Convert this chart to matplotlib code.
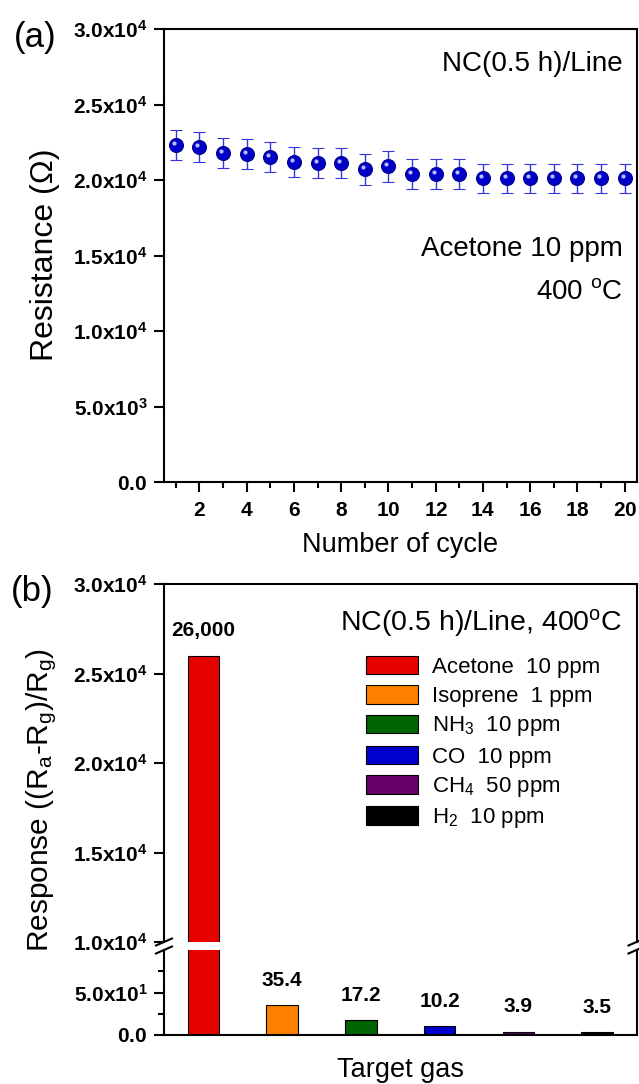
"""Cycling stability and gas selectivity of the NC(0.5 h)/Line sensor at 400 C."""
import matplotlib
matplotlib.use('Agg')
import matplotlib.pyplot as plt
from matplotlib.lines import Line2D
from matplotlib.ticker import FuncFormatter, FixedLocator
from matplotlib.transforms import offset_copy
import numpy as np

plt.rcParams['font.family'] = ['Liberation Sans', 'DejaVu Sans']
plt.rcParams['mathtext.fontset'] = 'custom'
plt.rcParams['mathtext.rm'] = 'Liberation Sans'
plt.rcParams['mathtext.it'] = 'Liberation Sans:italic'
plt.rcParams['mathtext.bf'] = 'Liberation Sans:bold'

# (a) resistance over repeated acetone cycles
cycles = list(range(1, 21))
resistance = [22300, 22200, 21800, 21700, 21500, 21200, 21100, 21100, 20700, 20900,
              20400, 20400, 20400, 20100, 20100, 20100, 20100, 20100, 20100, 20100]
resistance_err = [1000, 1000, 1000, 1000, 1000, 1000, 1000, 1000, 1000, 1000,
                  1000, 1000, 1000, 950, 950, 950, 950, 950, 950, 950]

# (b) response to different target gases
gases = ['Acetone  10 ppm', 'Isoprene  1 ppm', 'NH$_3$  10 ppm',
         'CO  10 ppm', 'CH$_4$  50 ppm', 'H$_2$  10 ppm']
responses = [26000, 35.4, 17.2, 10.2, 3.9, 3.5]
response_text = ['26,000', '35.4', '17.2', '10.2', '3.9', '3.5']
bar_colors = ['#e60000', '#ff8000', '#006400', '#0000cc', '#660066', '#000000']

FIG_W, FIG_H = 639, 1084
LEFT, RIGHT = 164 / FIG_W, 636.5 / FIG_W
WIDTH = RIGHT - LEFT


def fy(px):
    """Convert a pixel row (from the top) to a figure fraction."""
    return 1 - px / FIG_H


def sci_label(v, pos):
    if v == 0:
        return r'$\mathbf{0.0}$'
    exp = int(np.floor(np.log10(abs(v))))
    mant = v / 10 ** exp
    return r'$\mathbf{%.1fx10^{%d}}$' % (mant, exp)


def style_axis(ax):
    for s in ax.spines.values():
        s.set_linewidth(1.5)
    ax.tick_params(axis='both', which='major', direction='out', length=7,
                   width=1.5, labelsize=15, pad=5)
    ax.tick_params(axis='both', which='minor', direction='out', length=4, width=1.5)
    ax.yaxis.set_major_formatter(FuncFormatter(sci_label))


fig = plt.figure(figsize=(FIG_W / 100, FIG_H / 100), dpi=100)

# ---- (a) ----
ax_a = fig.add_axes([LEFT, fy(482), WIDTH, fy(29) - fy(482)])
style_axis(ax_a)
ax_a.errorbar(cycles, resistance, yerr=resistance_err, fmt='o', ms=10,
              mfc='#0000c8', mec='#00008b', mew=0.8, ecolor='#3535dd',
              elinewidth=1.0, capsize=4, capthick=1.0, zorder=3)
shine = offset_copy(ax_a.transData, fig=fig, x=-2, y=2, units='dots')
ax_a.plot(cycles, resistance, 'o', ms=3, color='#b8bcff', mew=0,
          transform=shine, zorder=4)
ax_a.set_xlim(0.5, 20.5)
ax_a.set_ylim(0, 30000)
ax_a.xaxis.set_major_locator(FixedLocator(range(2, 21, 2)))
ax_a.xaxis.set_minor_locator(FixedLocator(range(1, 21, 2)))
ax_a.yaxis.set_major_locator(FixedLocator(range(0, 30001, 5000)))
ax_a.xaxis.set_major_formatter(FuncFormatter(lambda v, p: r'$\mathbf{%d}$' % v))
ax_a.tick_params(axis='x', pad=7)
ax_a.set_xlabel('Number of cycle', fontsize=19.5, labelpad=8)

ax_a.text(0.971, 0.922, 'NC(0.5 h)/Line', transform=ax_a.transAxes,
          ha='right', va='center', fontsize=20)
ax_a.text(0.971, 0.515, 'Acetone 10 ppm', transform=ax_a.transAxes,
          ha='right', va='center', fontsize=20)
ax_a.text(0.971, 0.419, r'400 $^{\mathrm{o}}$C', transform=ax_a.transAxes,
          ha='right', va='center', fontsize=20)

fig.text(45 / FIG_W, fy(255), 'Resistance (Ω)', rotation=90,
         ha='center', va='center', fontsize=23)
fig.text(35 / FIG_W, fy(37), '(a)', ha='center', va='center', fontsize=25)

# ---- (b) broken axis ----
ax_top = fig.add_axes([LEFT, fy(942), WIDTH, fy(584) - fy(942)])
ax_bot = fig.add_axes([LEFT, fy(1035), WIDTH, fy(950) - fy(1035)])
x = np.arange(1, len(responses) + 1)

for ax in (ax_top, ax_bot):
    style_axis(ax)
    bars = ax.bar(x, responses, width=0.4, color=bar_colors,
                  edgecolor='black', linewidth=0.8)
    ax.set_xlim(0.5, 6.5)
    ax.set_xticks([])

ax_top.set_ylim(10000, 30000)
ax_top.yaxis.set_major_locator(FixedLocator(range(10000, 30001, 5000)))
ax_top.spines['bottom'].set_visible(False)

ax_bot.set_ylim(0, 100)
ax_bot.yaxis.set_major_locator(FixedLocator([0, 50]))
ax_bot.yaxis.set_minor_locator(FixedLocator([25, 75]))
ax_bot.spines['top'].set_visible(False)

for xi, v, txt in zip(x, responses, response_text):
    ax = ax_top if v > 100 else ax_bot
    ax.annotate(txt, (xi, v), xytext=(0, 11), textcoords='offset points',
                ha='center', va='bottom', fontsize=15, fontweight='bold')

ax_top.legend(bars.patches, gases, loc='upper left',
              bbox_to_anchor=(366 / FIG_W, fy(656)),
              bbox_transform=fig.transFigure, frameon=False, fontsize=16,
              handlelength=2.35, handleheight=0.9, handletextpad=0.6,
              labelspacing=0.33, borderpad=0, borderaxespad=0)

ax_top.text(0.971, 0.891, r'NC(0.5 h)/Line, 400$^{\mathrm{o}}$C',
            transform=ax_top.transAxes, ha='right', va='center', fontsize=20.5)
ax_bot.set_xlabel('Target gas', fontsize=19.5, labelpad=16)

# break marks on both spines
dx, dy = 8 / FIG_W, 3.5 / FIG_H
for xs in (LEFT, RIGHT):
    for ys in (fy(942), fy(950)):
        fig.add_artist(Line2D([xs - dx, xs + dx], [ys - dy, ys + dy],
                              color='black', lw=1.5))

fig.text(42 / FIG_W, fy(800),
         r'Response ((R$_\mathrm{a}$-R$_\mathrm{g}$)/R$_\mathrm{g}$)',
         rotation=90, ha='center', va='center', fontsize=21.5)
fig.text(32 / FIG_W, fy(592), '(b)', ha='center', va='center', fontsize=25)

fig.savefig('out.png', dpi=100)
